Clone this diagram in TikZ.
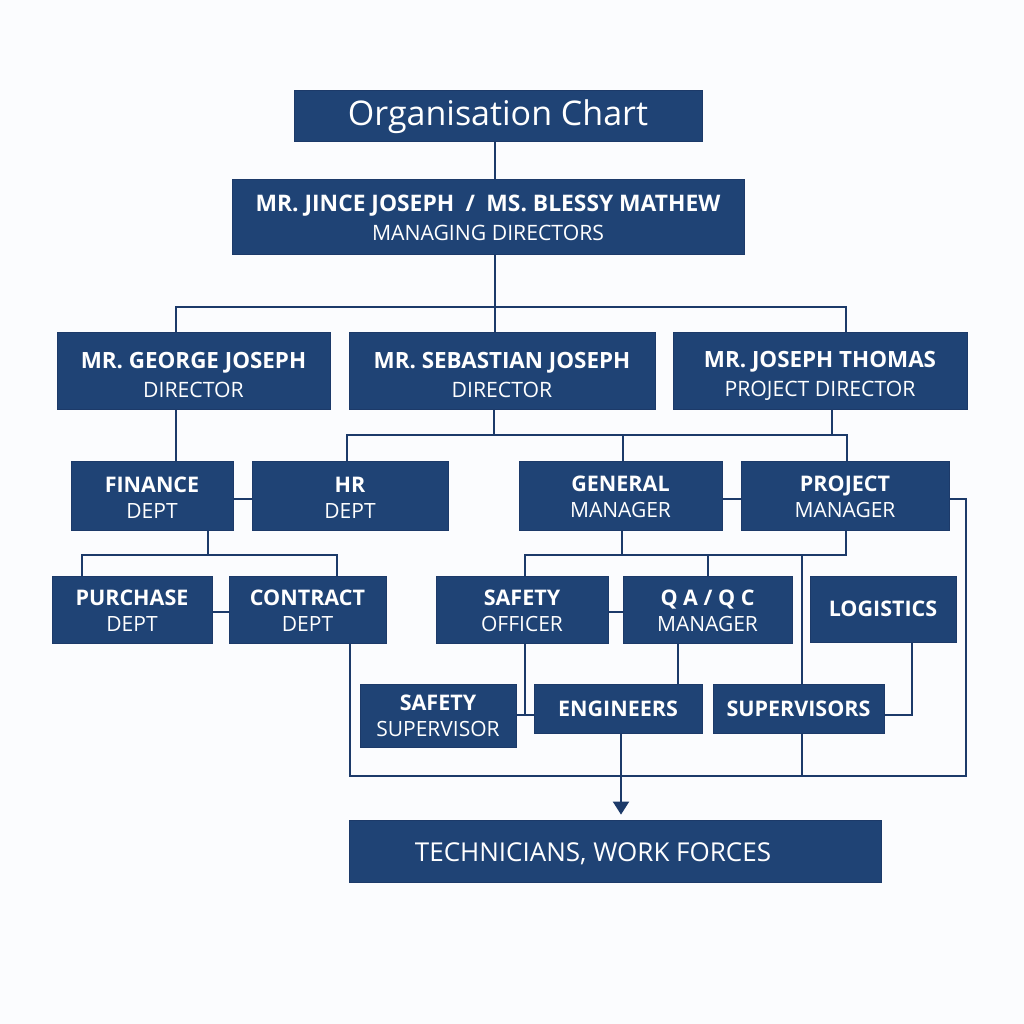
\documentclass[tikz,border=0pt]{standalone}
\usepackage{fontspec}
\setmainfont{Open Sans}
\usetikzlibrary{arrows.meta}
\definecolor{navy}{RGB}{31,67,117}
\definecolor{navyline}{RGB}{28,58,105}
\definecolor{bgc}{RGB}{251,252,254}
\newcommand{\bfa}[1]{{\fontsize{21.5}{26}\selectfont\bfseries #1}}
\newcommand{\bfb}[1]{{\fontsize{22.4}{29}\selectfont\bfseries #1}}
\newcommand{\bfc}[1]{{\fontsize{22.8}{29}\selectfont\bfseries #1}}
\begin{document}
\begin{tikzpicture}[x=1pt,y=-1pt,
  box/.style={fill=navy,draw=navyline,line width=0.8pt,text=white,inner sep=0pt,align=center,
    font=\fontsize{21}{26}\selectfont},
  bigbox/.style={box,font=\fontsize{21.2}{29}\selectfont},
  conn/.style={draw=navyline,line width=2pt}]
\fill[bgc] (0,0) rectangle (1024,1024);
\useasboundingbox (0,0) rectangle (1024,1024);

% boxes
\node[box,minimum width=408pt,minimum height=51pt,font=\fontsize{34}{38}\selectfont] (title) at (498,115.5) {\rule{0pt}{29pt}Organisation Chart};
\node[bigbox,minimum width=512pt,minimum height=75pt] (md) at (488,216.5) {\rule{0pt}{19pt}\bfc{MR. JINCE JOSEPH\enspace/\enspace MS. BLESSY MATHEW}\\MANAGING DIRECTORS};
\node[bigbox,minimum width=273pt,minimum height=77pt] (george) at (193.5,370.5) {\rule{0pt}{26pt}\bfb{MR. GEORGE JOSEPH}\\DIRECTOR};
\node[bigbox,minimum width=306pt,minimum height=77pt] (sebastian) at (502,370.5) {\rule{0pt}{26pt}\bfb{MR. SEBASTIAN JOSEPH}\\DIRECTOR};
\node[bigbox,minimum width=294pt,minimum height=77pt] (thomas) at (820,370.5) {\rule{0pt}{26pt}\bfb{MR. JOSEPH THOMAS}\\PROJECT DIRECTOR};

\node[box,minimum width=162pt,minimum height=69pt] (finance) at (152,495.5) {\rule{0pt}{19pt}\bfa{FINANCE}\\DEPT};
\node[box,minimum width=196pt,minimum height=69pt] (hr) at (350,495.5) {\rule{0pt}{19pt}\bfa{HR}\\DEPT};
\node[box,minimum width=203pt,minimum height=69pt] (gm) at (620.5,495.5) {\rule{0pt}{19pt}\bfa{GENERAL}\\MANAGER};
\node[box,minimum width=208pt,minimum height=69pt] (pm) at (845,495.5) {\rule{0pt}{19pt}\bfa{PROJECT}\\MANAGER};

\node[box,minimum width=160pt,minimum height=67pt] (purchase) at (132,609.5) {\rule{0pt}{18pt}\bfa{PURCHASE}\\DEPT};
\node[box,minimum width=157pt,minimum height=67pt] (contract) at (307.5,609.5) {\rule{0pt}{18pt}\bfa{CONTRACT}\\DEPT};
\node[box,minimum width=172pt,minimum height=67pt] (safetyoff) at (522,609.5) {\rule{0pt}{18pt}\bfa{SAFETY}\\OFFICER};
\node[box,minimum width=169pt,minimum height=67pt] (qaqc) at (707.5,609.5) {\rule{0pt}{18pt}\bfa{Q A / Q C}\\MANAGER};
\node[box,minimum width=146pt,minimum height=66pt] (logistics) at (883,609) {\bfa{LOGISTICS}};

\node[box,minimum width=156pt,minimum height=63pt] (safetysup) at (438,715.5) {\bfa{SAFETY}\\SUPERVISOR};
\node[box,minimum width=168pt,minimum height=49pt] (engineers) at (618,708.5) {\bfa{ENGINEERS}};
\node[box,minimum width=171pt,minimum height=49pt] (supervisors) at (798.5,708.5) {\bfa{SUPERVISORS}};

\node[box,minimum width=532pt,minimum height=62pt,font=\fontsize{26}{30}\selectfont] (tech) at (615,851) {\rule{0pt}{24pt}TECHNICIANS, WORK FORCES\hspace*{44pt}};

% helper coordinates
\coordinate (c1) at (495,307);
\coordinate (b1l) at (176,307);
\coordinate (b1r) at (846,307);
\coordinate (b2l) at (347,435);
\coordinate (b2r) at (847,435);
\coordinate (b2s) at (494,435);
\coordinate (b2t) at (832,435);
\coordinate (b2gm) at (623,435);
\coordinate (b3) at (208,555);
\coordinate (b3l) at (82,555);
\coordinate (b3r) at (337,555);
\coordinate (b4l) at (525,555);
\coordinate (b4r) at (846,555);
\coordinate (b4gm) at (622,555);
\coordinate (b4q) at (708,555);
\coordinate (b4s) at (802,555);
\coordinate (j6) at (525,715);
\coordinate (e6) at (678,684);
\coordinate (l6) at (912,715);
\coordinate (b5l) at (350,776);
\coordinate (b5r) at (966,776);
\coordinate (b5s) at (802,776);
\coordinate (ar) at (621,776);

% connectors
\draw[conn] (title.south -| c1) -- (md.north -| c1);
\draw[conn] (md.south -| c1) -- (sebastian.north -| c1);
\draw[conn] (george.north -| b1l) -- (b1l) -- (b1r) -- (thomas.north -| b1r);

\draw[conn] (george.south -| b1l) -- (finance.north -| b1l);
\draw[conn] ([yshift=-3.5pt]finance.east) -- ([yshift=-3.5pt]hr.west);
\draw[conn] (sebastian.south -| b2s) -- (b2s);
\draw[conn] (thomas.south -| b2t) -- (b2t);
\draw[conn] (hr.north -| b2l) -- (b2l) -- (b2r) -- (pm.north -| b2r);
\draw[conn] (b2gm) -- (gm.north -| b2gm);
\draw[conn] ([yshift=-3.5pt]gm.east) -- ([yshift=-3.5pt]pm.west);

\draw[conn] (finance.south -| b3) -- (b3);
\draw[conn] (purchase.north -| b3l) -- (b3l) -- (b3r) -- (contract.north -| b3r);
\draw[conn] ([yshift=-2.5pt]purchase.east) -- ([yshift=-2.5pt]contract.west);

\draw[conn] (gm.south -| b4gm) -- (b4gm);
\draw[conn] (safetyoff.north -| b4l) -- (b4l) -- (b4r) -- (pm.south -| b4r);
\draw[conn] (b4q) -- (qaqc.north -| b4q);
\draw[conn] (b4s) -- (supervisors.north -| b4s);
\draw[conn] ([yshift=-2.5pt]safetyoff.east) -- ([yshift=-2.5pt]qaqc.west);

\draw[conn] (safetyoff.south -| j6) -- (j6);
\draw[conn] (safetysup.east |- j6) -- (engineers.west |- j6);
\draw[conn] (qaqc.south -| e6) -- (engineers.north -| e6);
\draw[conn] (logistics.south -| l6) -- (l6) -- (supervisors.east |- l6);

\draw[conn] ([yshift=-3.5pt]pm.east) -| (b5r) -- (b5l) -- (contract.south -| b5l);
\draw[conn] (supervisors.south -| b5s) -- (b5s);
\draw[conn,-{Triangle[length=13pt,width=16pt]},shorten >=5pt] (engineers.south -| ar) -- (tech.north -| ar);
\end{tikzpicture}
\end{document}
